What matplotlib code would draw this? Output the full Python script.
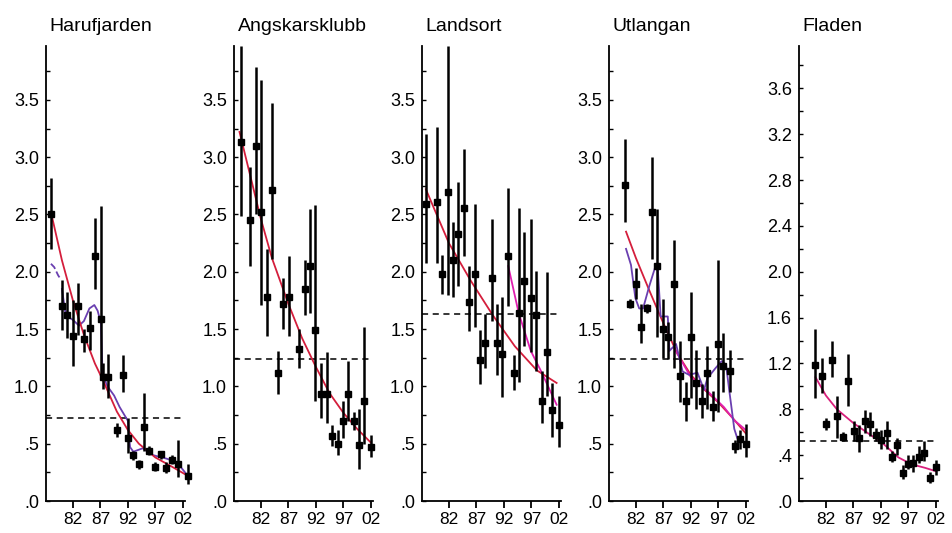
import matplotlib
matplotlib.use("Agg")
import matplotlib.pyplot as plt
from matplotlib.ticker import MultipleLocator, FixedLocator

plt.rcParams['font.family'] = ['Liberation Sans', 'DejaVu Sans']

# ---------------- data ----------------
titles = ["Harufjarden", "Angskarsklubb", "Landsort", "Utlangan", "Fladen"]
xtick_years = [1982, 1987, 1992, 1997, 2002]
xtick_labels = ["82", "87", "92", "97", "02"]
ref_levels = [0.72, 1.24, 1.63, 1.24, 0.52]

# Harufjarden
h_years = [1978.0, 1980.0, 1981.0, 1982.0, 1983.0, 1984.0, 1985.1, 1986.0, 1987.1, 1987.5,
           1988.3, 1990.0, 1991.1, 1992.0, 1993.0, 1994.0, 1995.0, 1995.8, 1997.0, 1998.1,
           1999.0, 2000.0, 2001.1, 2002.9]
h_vals = [2.50, 1.70, 1.62, 1.44, 1.70, 1.41, 1.51, 2.14, 1.59, 1.08,
          1.08, 0.62, 1.10, 0.55, 0.40, 0.32, 0.65, 0.44, 0.30, 0.41,
          0.29, 0.36, 0.32, 0.22]
h_lo = [2.20, 1.49, 1.42, 1.18, 1.45, 1.30, 1.32, 1.85, 1.10, 0.98,
        0.90, 0.56, 0.95, 0.42, 0.36, 0.28, 0.44, 0.40, 0.26, 0.37,
        0.24, 0.32, 0.21, 0.15]
h_hi = [2.82, 1.93, 1.82, 1.75, 1.90, 1.50, 1.66, 2.47, 2.57, 1.20,
        1.28, 0.68, 1.27, 0.72, 0.44, 0.36, 0.94, 0.48, 0.34, 0.44,
        0.34, 0.40, 0.53, 0.32]
h_red_x = [1978, 1980, 1982, 1984, 1986, 1987.5, 1990, 1992, 1994, 1997, 2000, 2002.9]
h_red_y = [2.52, 2.10, 1.75, 1.45, 1.20, 1.05, 0.78, 0.62, 0.50, 0.38, 0.30, 0.22]
h_pd_x = [1978.0, 1978.6, 1979.3, 1979.7]
h_pd_y = [2.07, 2.04, 1.97, 1.94]
h_pu_x = [1980.0, 1980.7, 1982, 1983.1, 1984, 1985, 1985.9, 1986.5, 1987.1, 1987.4, 1988.3,
          1989.5, 1990.5, 1992.0, 1992.4, 1993, 1994.7, 1996.6, 1999, 2000.9, 2002.9]
h_pu_y = [1.85, 1.62, 1.58, 1.53, 1.57, 1.68, 1.71, 1.66, 1.55, 1.10, 1.00,
          0.92, 0.82, 0.70, 0.47, 0.43, 0.46, 0.40, 0.37, 0.34, 0.22]

# Angskarsklubb
a_years = [1978.3, 1980.1, 1981.1, 1982.0, 1983.1, 1984.1, 1985.1, 1986.1, 1987.1, 1989.0,
           1990.0, 1991.0, 1991.9, 1993.0, 1994.0, 1995.0, 1996.0, 1996.9, 1997.9, 1998.9,
           1999.9, 2000.8, 2002.0]
a_vals = [3.13, 2.45, 3.10, 2.52, 1.78, 2.71, 1.12, 1.72, 1.78, 1.33,
          1.85, 2.05, 1.49, 0.93, 0.93, 0.57, 0.50, 0.70, 0.93, 0.70,
          0.49, 0.87, 0.47]
a_lo = [2.49, 2.05, 2.50, 1.71, 1.44, 2.11, 0.93, 1.50, 1.44, 1.16,
        1.62, 1.64, 0.87, 0.72, 0.68, 0.48, 0.40, 0.55, 0.70, 0.62,
        0.28, 0.50, 0.38]
a_hi = [3.97, 2.91, 3.79, 3.67, 2.20, 3.47, 1.31, 1.95, 2.14, 1.50,
        2.10, 2.55, 2.58, 1.20, 1.30, 0.66, 0.62, 0.87, 1.22, 0.78,
        0.80, 1.52, 0.58]
a_red_x = [1978.1, 1980, 1982, 1984, 1987, 1989.5, 1992, 1994.5, 1997, 1999.5, 2002]
a_red_y = [3.22, 2.85, 2.46, 2.12, 1.72, 1.42, 1.17, 0.94, 0.77, 0.63, 0.51]

# Landsort
l_years = [1977.8, 1979.9, 1980.8, 1981.9, 1982.8, 1983.7, 1984.8, 1985.7, 1986.8, 1987.7,
           1988.6, 1989.8, 1990.8, 1991.7, 1992.8, 1993.8, 1994.7, 1995.6, 1997.0, 1997.9,
           1998.9, 1999.9, 2000.8, 2002.0]
l_vals = [2.59, 2.61, 1.98, 2.70, 2.10, 2.33, 2.56, 1.74, 1.98, 1.23,
          1.38, 1.95, 1.38, 1.28, 2.14, 1.12, 1.64, 1.92, 1.77, 1.62,
          0.87, 1.30, 0.79, 0.66]
l_lo = [2.08, 2.08, 1.81, 1.80, 1.78, 1.88, 2.14, 1.48, 1.52, 1.02,
        1.16, 1.57, 1.10, 0.91, 1.70, 0.97, 1.04, 1.35, 1.30, 1.13,
        0.68, 0.92, 0.56, 0.47]
l_hi = [3.20, 3.26, 2.15, 3.97, 2.43, 2.78, 3.07, 2.05, 2.59, 1.49,
        1.63, 2.46, 1.72, 1.78, 2.73, 1.27, 2.56, 2.35, 2.46, 2.01,
        1.13, 2.00, 1.03, 0.92]
l_red_x = [1977.8, 1982, 1986, 1990, 1994, 1998, 2001.6]
l_red_y = [2.72, 2.25, 1.92, 1.62, 1.35, 1.14, 1.03]
l_mag_x = [1992.8, 1994.7, 1996.9, 1998.8, 2001.6]
l_mag_y = [2.05, 1.64, 1.31, 1.13, 0.84]

# Utlangan
u_years = [1980.1, 1980.9, 1982.0, 1983.0, 1984.1, 1985.0, 1985.9, 1987.0, 1987.9, 1989.0,
           1990.0, 1991.1, 1992.0, 1993.0, 1994.0, 1994.9, 1996.1, 1997.0, 1997.9, 1999.1,
           2000.0, 2001.0, 2002.0]
u_vals = [2.76, 1.72, 1.89, 1.52, 1.68, 2.52, 2.05, 1.50, 1.43, 1.89,
          1.09, 0.87, 1.43, 1.03, 0.87, 1.12, 0.82, 1.37, 1.18, 1.13,
          0.48, 0.54, 0.50]
u_lo = [2.43, 1.68, 1.76, 1.38, 1.64, 2.11, 1.43, 1.25, 1.24, 1.16,
        0.86, 0.70, 0.90, 0.80, 0.72, 0.80, 0.70, 0.78, 0.95, 0.95,
        0.42, 0.45, 0.38]
u_hi = [3.16, 1.76, 2.03, 1.72, 1.72, 3.00, 2.55, 1.76, 1.56, 2.28,
        1.40, 1.04, 1.82, 1.32, 1.02, 1.35, 0.96, 2.10, 1.47, 1.32,
        0.53, 0.62, 0.67]
u_red_x = [1980.2, 1982, 1984.5, 1987, 1989.5, 1992, 1994.5, 1997, 1999.5, 2002]
u_red_y = [2.35, 2.12, 1.83, 1.55, 1.29, 1.10, 0.97, 0.86, 0.73, 0.59]
u_mag_x = [1989, 1992, 1995, 1998, 2000, 2002]
u_mag_y = [1.33, 1.08, 0.96, 0.82, 0.70, 0.62]
u_pu_x = [1980.2, 1981.1, 1981.9, 1982.6, 1983.3, 1984.4, 1985.5, 1986.0, 1986.5, 1987.8,
          1988.1, 1989.3, 1990.5, 1991.7, 1993.2, 1994.4, 1995.0, 1996.5, 1997.6, 1998.4,
          1999.0, 1999.9, 2000.5, 2002.0]
u_pu_y = [2.20, 2.06, 1.77, 1.68, 1.68, 1.87, 2.04, 2.01, 1.61, 1.61,
          1.31, 1.37, 1.13, 1.10, 1.12, 0.97, 1.07, 1.16, 1.22, 1.19,
          0.96, 0.63, 0.54, 0.51]

# Fladen
f_years = [1980.1, 1981.2, 1982.1, 1983.1, 1984.1, 1985.1, 1986.1, 1987.2, 1988.1, 1989.2,
           1990.1, 1991.2, 1992.0, 1993.1, 1994.0, 1995.0, 1996.0, 1997.0, 1997.9, 1999.0,
           1999.9, 2001.0, 2002.0]
f_vals = [1.19, 1.09, 0.67, 1.23, 0.74, 0.56, 1.05, 0.61, 0.55, 0.70,
          0.67, 0.58, 0.53, 0.59, 0.38, 0.49, 0.24, 0.32, 0.33, 0.38,
          0.42, 0.20, 0.30]
f_lo = [0.90, 0.94, 0.62, 1.08, 0.55, 0.52, 0.83, 0.52, 0.43, 0.59,
        0.57, 0.52, 0.45, 0.45, 0.34, 0.40, 0.19, 0.28, 0.25, 0.33,
        0.35, 0.16, 0.23]
f_hi = [1.50, 1.25, 0.72, 1.40, 0.92, 0.60, 1.28, 0.70, 0.66, 0.79,
        0.78, 0.64, 0.62, 0.70, 0.44, 0.55, 0.31, 0.40, 0.40, 0.48,
        0.52, 0.25, 0.36]
f_red_x = [1980.1, 1982, 1984, 1987, 1990, 1992.2, 1995.2, 1997.6, 2000, 2002]
f_red_y = [1.08, 0.92, 0.80, 0.68, 0.58, 0.51, 0.38, 0.32, 0.29, 0.26]

panels = [
    dict(x=h_years, y=h_vals, lo=h_lo, hi=h_hi,
         lines=[(h_pd_x, h_pd_y, '#6a3fb0', '--'), (h_pu_x, h_pu_y, '#6a3fb0', '-'),
                (h_red_x, h_red_y, '#d41e3c', '-')]),
    dict(x=a_years, y=a_vals, lo=a_lo, hi=a_hi,
         lines=[(a_red_x, a_red_y, '#d41e3c', '-')]),
    dict(x=l_years, y=l_vals, lo=l_lo, hi=l_hi,
         lines=[(l_red_x, l_red_y, '#d41e3c', '-'), (l_mag_x, l_mag_y, '#e020b0', '-')]),
    dict(x=u_years, y=u_vals, lo=u_lo, hi=u_hi,
         lines=[(u_red_x, u_red_y, '#d41e3c', '-'), (u_mag_x, u_mag_y, '#e020b0', '-'),
                (u_pu_x, u_pu_y, '#6a3fb0', '-')]),
    dict(x=f_years, y=f_vals, lo=f_lo, hi=f_hi,
         lines=[(f_red_x, f_red_y, '#d8207c', '-')]),
]

# ---------------- layout ----------------
W, H = 953, 533
fig = plt.figure(figsize=(W / 100, H / 100), dpi=100)
lefts_px = [46, 234, 422, 609, 799]
width_px = 139
bottom_px = 32
height_px = 455

for i, (p, title) in enumerate(zip(panels, titles)):
    ax = fig.add_axes([lefts_px[i] / W, bottom_px / H, width_px / W, height_px / H])
    ax.set_xlim(1977.1, 2002.4)
    ax.set_ylim(0, 3.97)
    for s in ('top', 'right'):
        ax.spines[s].set_visible(False)
    for s in ('left', 'bottom'):
        ax.spines[s].set_linewidth(1.3)

    # reference dashed line
    ax.axhline(ref_levels[i], color='black', lw=1.1, ls=(0, (4, 3)), zorder=1)

    # fitted lines
    for lx, ly, c, ls in p['lines']:
        ax.plot(lx, ly, color=c, lw=1.3, ls=ls, zorder=3, clip_on=False)

    # error bars and points
    yerr = [[v - l for v, l in zip(p['y'], p['lo'])], [h - v for v, h in zip(p['y'], p['hi'])]]
    eb = ax.errorbar(p['x'], p['y'], yerr=yerr, fmt='s', color='black', ms=5,
                     elinewidth=1.8, capsize=0, zorder=4, clip_on=False)
    for art in eb.lines[2]:
        art.set_clip_on(False)

    ax.xaxis.set_major_locator(FixedLocator(xtick_years))
    ax.set_xticklabels(xtick_labels)
    ax.tick_params(axis='x', direction='out', length=5, width=1.3, pad=3, labelsize=12.5)

    if i < 4:
        yt = [0, 0.5, 1.0, 1.5, 2.0, 2.5, 3.0, 3.5]
        ylab = ['.0', '.5', '1.0', '1.5', '2.0', '2.5', '3.0', '3.5']
        ax.yaxis.set_minor_locator(MultipleLocator(0.25))
    else:
        yt = [0, 0.4, 0.8, 1.2, 1.6, 2.0, 2.4, 2.8, 3.2, 3.6]
        ylab = ['.0', '.4', '.8', '1.2', '1.6', '2.0', '2.4', '2.8', '3.2', '3.6']
        ax.yaxis.set_minor_locator(MultipleLocator(0.2))
    ax.yaxis.set_major_locator(FixedLocator(yt))
    ax.set_yticklabels(ylab)
    ax.tick_params(axis='y', which='both', direction='in', length=3, width=1.0,
                   pad=5, labelsize=13)

    ax.text(0.025, 1.025, title, transform=ax.transAxes, ha='left', va='bottom',
            fontsize=14)

fig.savefig("out.png", dpi=100)
